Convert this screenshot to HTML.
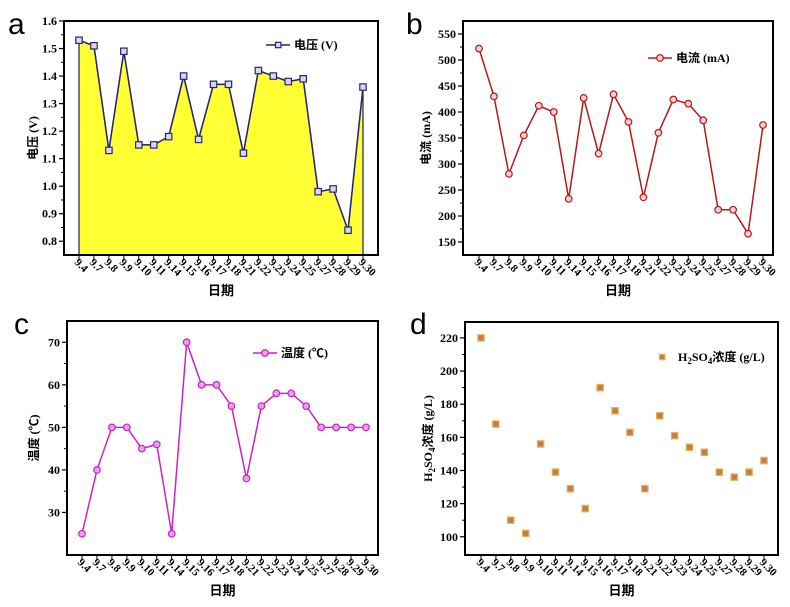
<!DOCTYPE html>
<html><head><meta charset="utf-8"><style>
body{margin:0;background:#fff;width:790px;height:607px;overflow:hidden}
svg{display:block}
text{font-family:"Liberation Serif","Noto Serif CJK SC",serif;font-weight:bold}
.cjk{font-family:"Liberation Serif","Noto Sans CJK SC",sans-serif;font-weight:bold}
.pl{font-family:"Liberation Sans",sans-serif;font-weight:normal;font-size:30px}
</style></head><body>
<svg id="chart" width="790" height="607" xmlns="http://www.w3.org/2000/svg"></svg>
<script>
const categories=["9.4","9.7","9.8","9.9","9.10","9.11","9.14","9.15","9.16","9.17","9.18","9.21","9.22","9.23","9.24","9.25","9.27","9.28","9.29","9.30"];
const voltageValues=[1.53,1.51,1.13,1.49,1.15,1.15,1.18,1.40,1.17,1.37,1.37,1.12,1.42,1.40,1.38,1.39,0.98,0.99,0.84,1.36];
const voltageTicks=["0.8","0.9","1.0","1.1","1.2","1.3","1.4","1.5","1.6"];
const currentValues=[522,430,281,355,412,400,233,427,320,434,381,236,360,424,416,384,212,212,166,375];
const currentTicks=[150,200,250,300,350,400,450,500,550];
const tempValues=[25,40,50,50,45,46,25,70,60,60,55,38,55,58,58,55,50,50,50,50];
const tempTicks=[30,40,50,60,70];
const acidValues=[220,168,110,102,156,139,129,117,190,176,163,129,173,161,154,151,139,136,139,146];
const acidTicks=[100,120,140,160,180,200,220];

const NS="http://www.w3.org/2000/svg";
const svg=document.getElementById('chart');
function mk(tag,attrs,parent,txt){const e=document.createElementNS(NS,tag);for(const k in attrs)e.setAttribute(k,attrs[k]);if(txt!==undefined)e.textContent=txt;(parent||svg).appendChild(e);return e;}

function panel(cfg){
  const g=mk('g',{});
  
  
  const {x0,x1,y0,y1,xa,xb,vmin,vmax}=cfg;
  const sx=i=>xa+(xb-xa)*i/(categories.length-1);
  const sy=v=>y1-(v-vmin)/(vmax-vmin)*(y1-y0);
  if(cfg.fill){
    let d='M'+sx(0)+','+y1;
    cfg.values.forEach((v,i)=>{d+=' L'+sx(i)+','+sy(v);});
    d+=' L'+sx(cfg.values.length-1)+','+y1+' Z';
    const f=mk('path',{d:d,fill:'#ffff33',stroke:'#1e1e5a','stroke-width':1.2},g);
    
    
  }
  if(cfg.line){
    const pts=cfg.values.map((v,i)=>sx(i)+','+sy(v)).join(' ');
    const l=mk('polyline',{points:pts,fill:'none',stroke:cfg.color,'stroke-width':1.5},g);
    
    
  }
  cfg.values.forEach((v,i)=>{
    let m;
    if(cfg.marker==='circle'){m=mk('circle',{cx:sx(i),cy:sy(v),r:3.3,fill:cfg.mfill,stroke:cfg.color,'stroke-width':1.2},g);}
    else{m=mk('rect',{x:sx(i)-3.2,y:sy(v)-3.2,width:6.4,height:6.4,fill:cfg.mfill,stroke:cfg.color,'stroke-width':1.2},g);}
    
    
  });
  const fr=mk('rect',{x:x0,y:y0,width:x1-x0,height:y1-y0,fill:'none',stroke:'#000','stroke-width':2},g);
  
  
  cfg.ticks.forEach(t=>{
    const v=parseFloat(t),y=sy(v);
    mk('line',{x1:x0-5,y1:y,x2:x0,y2:y,stroke:'#000','stroke-width':1.2},g);
    const tx=mk('text',{x:x0-7,y:y+4,'text-anchor':'end','font-size':12},g,t);
    
    
  });
  for(let k=0;k<cfg.ticks.length-1;k++){
    const y=(sy(parseFloat(cfg.ticks[k]))+sy(parseFloat(cfg.ticks[k+1])))/2;
    mk('line',{x1:x0-3,y1:y,x2:x0,y2:y,stroke:'#000','stroke-width':1},g);
  }
  categories.forEach((c,i)=>{
    const x=sx(i);
    mk('line',{x1:x,y1:y1,x2:x,y2:y1+4,stroke:'#000','stroke-width':1},g);
    const tx=mk('text',{x:0,y:0,'font-size':11,transform:`translate(${x-5},${y1+8}) rotate(45)`},g,c);
    
    
  });
  const xt=mk('text',{x:(x0+x1)/2,y:y1+40,'text-anchor':'middle','font-size':13,class:'cjk'},g,'日期');
  
  
  const yt=mk('text',{x:0,y:0,'text-anchor':'middle','font-size':12,class:'cjk',transform:`translate(${cfg.ytx},${(y0+y1)/2}) rotate(-90)`},g);
  
  
  yt.innerHTML=cfg.ylabel;
  const pl=mk('text',{x:cfg.plx,y:cfg.ply,class:'pl'},g,cfg.letter);
  
  
  const lg=mk('g',{},g);
  
  
  const [lx,ly]=cfg.legend;
  if(cfg.line) mk('line',{x1:lx,y1:ly,x2:lx+24,y2:ly,stroke:cfg.color,'stroke-width':1.5},lg);
  if(cfg.marker==='circle') mk('circle',{cx:lx+12,cy:ly,r:3.3,fill:cfg.mfill,stroke:cfg.color,'stroke-width':1.2},lg);
  else mk('rect',{x:lx+9.5,y:ly-2.7,width:5.4,height:5.4,fill:cfg.mfill,stroke:cfg.color,'stroke-width':1.2},lg);
  const lt=mk('text',{x:lx+28,y:ly+4,'font-size':12,class:'cjk'},lg);
  lt.innerHTML=cfg.legendText;
}

panel({name:'panel-a-voltage',x0:64,x1:378,y0:21,y1:255,xa:79,xb:363,vmin:0.75,vmax:1.6,values:voltageValues,ticks:voltageTicks,
  fill:true,line:true,color:'#262670',mfill:'#d8d8f0',marker:'square',ytx:37,ylabel:'电压 (V)',letter:'a',plx:8,ply:34,
  legend:[266,45],legendText:'电压 (V)'});
panel({name:'panel-b-current',x0:463,x1:773,y0:21,y1:255,xa:479,xb:763,vmin:125,vmax:575,values:currentValues,ticks:currentTicks.map(String),
  line:true,color:'#b81818',mfill:'#f8d0d0',marker:'circle',ytx:430,ylabel:'电流 (mA)',letter:'b',plx:406,ply:34,
  legend:[648,58],legendText:'电流 (mA)'});
panel({name:'panel-c-temperature',x0:67,x1:378,y0:321,y1:555,xa:82,xb:366,vmin:20,vmax:75,values:tempValues,ticks:tempTicks.map(String),
  line:true,color:'#cc22cc',mfill:'#e8a0e8',marker:'circle',ytx:38,ylabel:'温度 (℃)',letter:'c',plx:14,ply:334,
  legend:[253,353],legendText:'温度 (℃)'});
panel({name:'panel-d-acid',x0:465,x1:778,y0:322,y1:555,xa:481,xb:764,vmin:89,vmax:229.6,values:acidValues,ticks:acidTicks.map(String),
  line:false,color:'#e8b060',mfill:'#c08040',marker:'square',ytx:432,
  ylabel:'H<tspan font-size="9" dy="3">2</tspan><tspan dy="-3">SO</tspan><tspan font-size="9" dy="3">4</tspan><tspan dy="-3">浓度 (g/L)</tspan>',
  letter:'d',plx:410,ply:334,legend:[650,357],
  legendText:'H<tspan font-size="9" dy="3">2</tspan><tspan dy="-3">SO</tspan><tspan font-size="9" dy="3">4</tspan><tspan dy="-3">浓度 (g/L)</tspan>'});
</script>
</body></html>
